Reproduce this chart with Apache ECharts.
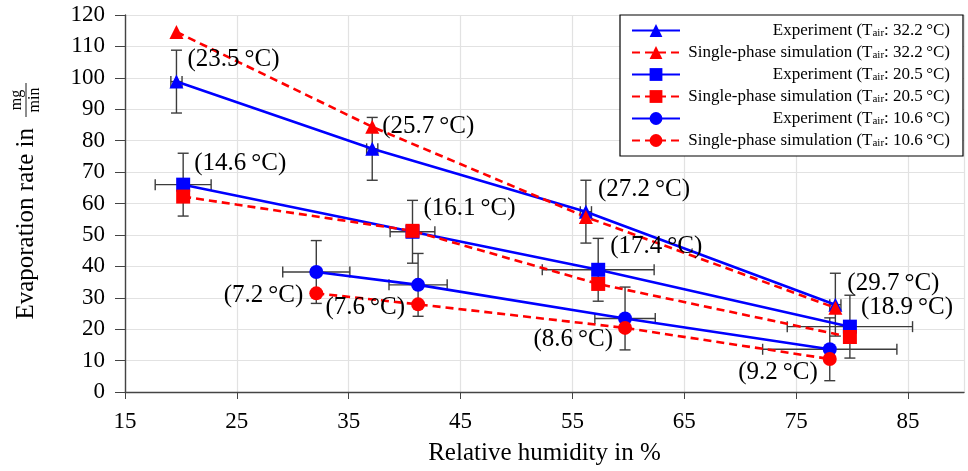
<!DOCTYPE html>
<html>
<head>
<meta charset="utf-8">
<script src="https://cdn.jsdelivr.net/npm/echarts@6/dist/echarts.min.js"></script>
<style>
html, body { margin: 0; padding: 0; background: #fff; }
#chart { width: 968px; height: 471px; }
</style>
</head>
<body>
<div id="chart"></div>
<script>
// relative humidity (%) and evaporation rate (mg/min)
const rhTri = [19.6, 37.1, 56.2, 78.5];
const expTri = [98.8, 77.4, 57.4, 27.8];
const simTri = [114.6, 84.4, 55.7, 26.8];
const xerrTri = [0.5, 0.5, 0.5, 0.5];

const rhSq = [20.2, 40.7, 57.3, 79.8];
const expSq = [66.0, 51.0, 38.9, 20.8];
const simSq = [62.2, 51.3, 34.4, 17.5];
const xerrSq = [2.5, 2.0, 5.0, 5.6];

const rhCirc = [32.1, 41.2, 59.7, 78.0];
const expCirc = [38.2, 34.1, 23.4, 13.6];
const simCirc = [31.4, 27.9, 20.4, 10.5];
const xerrCirc = [3.0, 2.6, 2.7, 6.0];

const yerr = [10, 10, 10, 10];

const airTemps = ['32.2', '20.5', '10.6'];
const labelsTri = ['(23.5\u2009°C)', '(25.7\u2009°C)', '(27.2\u2009°C)', '(29.7\u2009°C)'];
const labelsSq = ['(14.6\u2009°C)', '(16.1\u2009°C)', '(17.4\u2009°C)', '(18.9\u2009°C)'];
const labelsCirc = ['(7.2\u2009°C)', '(7.6\u2009°C)', '(8.6\u2009°C)', '(9.2\u2009°C)'];

const xTicks = { min: 15, max: 90, interval: 10 };
const yTicks = { min: 0, max: 120, interval: 10 };

const FONT = '"Liberation Serif", "DejaVu Serif", serif';
const BLUE = '#0000ff';
const RED = '#ff0000';

// which series carries each temperature label, and where it sits
// [series kind, position, offset]
const labelHost = {
    tri: [['exp', 'right', [4, -22]], ['sim', 'right', [3, 0]], ['exp', 'right', [5, -22]], ['sim', 'right', [5, -24]]],
    sq: [['exp', 'right', [4, -21]], ['sim', 'right', [4, -22]], ['exp', 'right', [5, -23]], ['exp', 'right', [4, -19]]],
    circ: [['sim', 'left', [-6, 2]], ['sim', 'left', [-6, 3]], ['sim', 'left', [-5, 12]], ['sim', 'left', [-5, 13]]]
};

function points(xs, ys, key, kind, labels) {
    return xs.map(function (x, i) {
        const item = { value: [x, ys[i]] };
        const h = labelHost[key][i];
        if (h[0] === kind) {
            item.label = {
                show: true,
                formatter: labels[i],
                position: h[1],
                distance: 0,
                offset: h[2],
                fontFamily: FONT,
                fontSize: 25,
                color: '#000'
            };
        }
        return item;
    });
}

function errRows(xs, ys, xe) {
    return xs.map(function (x, i) { return [x, ys[i], xe[i], yerr[i]]; });
}

function errorBarItem(params, api) {
    const x = api.value(0), y = api.value(1), ex = api.value(2), ey = api.value(3);
    const top = api.coord([x, y + ey]);
    const bot = api.coord([x, y - ey]);
    const lft = api.coord([x - ex, y]);
    const rgt = api.coord([x + ex, y]);
    const cap = 5.5;
    const st = { stroke: '#3c3c3c', lineWidth: 1.4 };
    const ch = [
        { type: 'line', shape: { x1: top[0], y1: top[1], x2: bot[0], y2: bot[1] }, style: st },
        { type: 'line', shape: { x1: top[0] - cap, y1: top[1], x2: top[0] + cap, y2: top[1] }, style: st },
        { type: 'line', shape: { x1: bot[0] - cap, y1: bot[1], x2: bot[0] + cap, y2: bot[1] }, style: st },
        { type: 'line', shape: { x1: lft[0], y1: lft[1], x2: rgt[0], y2: rgt[1] }, style: st },
        { type: 'line', shape: { x1: lft[0], y1: lft[1] - cap, x2: lft[0], y2: lft[1] + cap }, style: st },
        { type: 'line', shape: { x1: rgt[0], y1: rgt[1] - cap, x2: rgt[0], y2: rgt[1] + cap }, style: st }
    ];
    return { type: 'group', children: ch };
}

function lineSeries(name, data, color, dashed, symbol) {
    return {
        name: name,
        type: 'line',
        data: data,
        symbol: symbol,
        symbolSize: 14,
        z: 3,
        color: color,
        lineStyle: { color: color, width: 2.6, type: dashed ? [8, 5] : 'solid' },
        itemStyle: { color: color },
        animation: false
    };
}

const expName = t => 'Experiment (Tair: ' + t + '\u2009°C)';
const simName = t => 'Single-phase simulation (Tair: ' + t + '\u2009°C)';

var myChart = echarts.init(document.getElementById('chart'));
var option = {
    backgroundColor: '#fff',
    animation: false,
    grid: { left: 125, right: 4, top: 15, bottom: 79, outerBoundsMode: 'none' },
    legend: {
        orient: 'vertical',
        right: 5,
        top: 15,
        padding: [7, 13, 7, 11],
        itemWidth: 48,
        itemHeight: 16,
        itemGap: 5,
        backgroundColor: '#fff',
        borderColor: '#000',
        borderWidth: 1.2,
        borderRadius: 0,
        data: [expName(airTemps[0]), simName(airTemps[0]), expName(airTemps[1]), simName(airTemps[1]), expName(airTemps[2]), simName(airTemps[2])],
        formatter: function (name) {
            const m = name.match(/^(.*) \(Tair: (.*)\)$/);
            return '{t|' + m[1] + ' (T}{s|air}{t|: ' + m[2] + ')}';
        },
        textStyle: {
            width: 265,
            rich: {
                t: { fontFamily: FONT, fontSize: 17, color: '#000', align: 'right' },
                s: { fontFamily: FONT, fontSize: 11, color: '#000', align: 'right', verticalAlign: 'bottom' }
            }
        }
    },
    xAxis: {
        type: 'value',
        min: xTicks.min,
        max: xTicks.max,
        interval: xTicks.interval,
        name: 'Relative humidity in %',
        nameLocation: 'middle',
        nameGap: 49,
        nameTextStyle: { fontFamily: FONT, fontSize: 25, color: '#000' },
        axisLine: { show: true, lineStyle: { color: '#444', width: 1.4 } },
        axisTick: { show: true, length: 7, lineStyle: { color: '#444' } },
        axisLabel: { fontFamily: FONT, fontSize: 23, color: '#000', margin: 18, showMaxLabel: false },
        splitLine: { show: true, lineStyle: { color: '#e2e2e2', width: 1.2 } }
    },
    yAxis: {
        type: 'value',
        min: yTicks.min,
        max: yTicks.max,
        interval: yTicks.interval,
        axisLine: { show: true, lineStyle: { color: '#444', width: 1.4 } },
        axisTick: { show: true, length: 10, lineStyle: { color: '#444' } },
        axisLabel: { fontFamily: FONT, fontSize: 23, color: '#000', margin: 20 },
        splitLine: { show: true, lineStyle: { color: '#e2e2e2', width: 1.2 } }
    },
    graphic: [{
        type: 'group',
        x: 26,
        y: 128,
        rotation: Math.PI / 2,
        children: [
            { type: 'text', x: 0, y: 0, style: { text: 'Evaporation rate in', font: '25px ' + FONT, fill: '#000', align: 'right', verticalAlign: 'middle' } },
            { type: 'text', x: 28, y: -1, style: { text: 'mg', font: '16px ' + FONT, fill: '#000', align: 'center', verticalAlign: 'bottom' } },
            { type: 'line', shape: { x1: 11, y1: 0, x2: 45, y2: 0 }, style: { stroke: '#000', lineWidth: 0.9 } },
            { type: 'text', x: 28, y: 1, style: { text: 'min', font: '16px ' + FONT, fill: '#000', align: 'center', verticalAlign: 'top' } }
        ]
    }],
    series: [
        { type: 'custom', renderItem: errorBarItem, data: errRows(rhTri, expTri, xerrTri), encode: { x: 0, y: 1 }, z: 1, silent: true },
        { type: 'custom', renderItem: errorBarItem, data: errRows(rhSq, expSq, xerrSq), encode: { x: 0, y: 1 }, z: 1, silent: true },
        { type: 'custom', renderItem: errorBarItem, data: errRows(rhCirc, expCirc, xerrCirc), encode: { x: 0, y: 1 }, z: 1, silent: true },
        lineSeries(expName(airTemps[0]), points(rhTri, expTri, 'tri', 'exp', labelsTri), BLUE, false, 'triangle'),
        lineSeries(simName(airTemps[0]), points(rhTri, simTri, 'tri', 'sim', labelsTri), RED, true, 'triangle'),
        lineSeries(expName(airTemps[1]), points(rhSq, expSq, 'sq', 'exp', labelsSq), BLUE, false, 'rect'),
        lineSeries(simName(airTemps[1]), points(rhSq, simSq, 'sq', 'sim', labelsSq), RED, true, 'rect'),
        lineSeries(expName(airTemps[2]), points(rhCirc, expCirc, 'circ', 'exp', labelsCirc), BLUE, false, 'circle'),
        lineSeries(simName(airTemps[2]), points(rhCirc, simCirc, 'circ', 'sim', labelsCirc), RED, true, 'circle')
    ]
};
myChart.setOption(option);
window.addEventListener('resize', () => {
    myChart.resize()
})
</script>
</body>
</html>
